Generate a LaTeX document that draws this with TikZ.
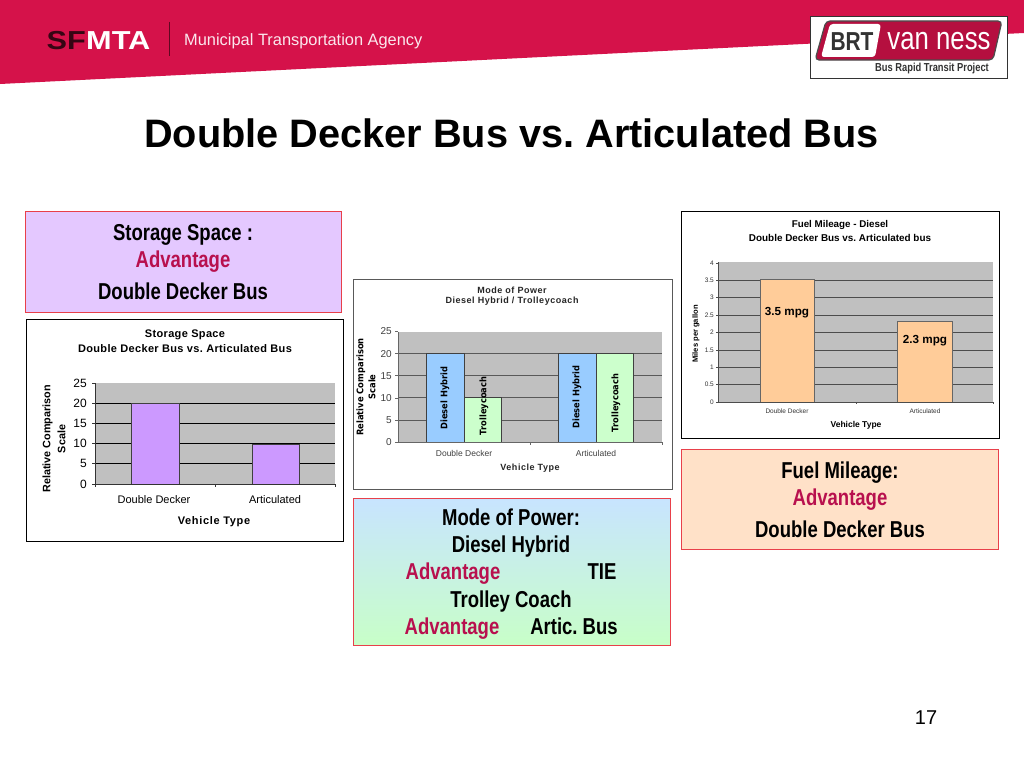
\documentclass[tikz,border=0pt]{standalone}
\usepackage{fontspec}
\setmainfont{Liberation Sans}
\usepackage{xcolor}
\usetikzlibrary{shadings}
\newfontfamily\narrowfont[FakeStretch=0.805]{Liberation Sans}
\newfontfamily\wideblack[FakeStretch=0.92]{DejaVu Sans}
\newfontfamily\spacedfont[LetterSpace=6]{Liberation Sans}
\newfontfamily\sparsefont[LetterSpace=3]{Liberation Sans}
\newfontfamily\widefont[FakeStretch=1.18]{Liberation Sans}
\definecolor{bannerred}{HTML}{D5124A}
\definecolor{advred}{HTML}{B8104E}
\definecolor{edgered}{HTML}{E8404A}
\definecolor{plotgray}{HTML}{C0C0C0}
\definecolor{barpurple}{HTML}{CC99FF}
\definecolor{barblue}{HTML}{99CCFF}
\definecolor{bargreen}{HTML}{CCFFCC}
\definecolor{barorange}{HTML}{FFCC99}
\tikzset{
  infobox/.style={draw=edgered,line width=0.9pt},
  chartframe/.style={draw=black,line width=0.9pt,fill=white},
  softframe/.style={draw=black!65,line width=0.8pt,fill=white},
  bar/.style={draw=black!75,line width=0.9pt},
  boxtext/.style={font=\narrowfont\bfseries\fontsize{23}{25}\selectfont,inner sep=0pt,anchor=base},
  advtext/.style={boxtext,text=advred},
  tick/.style={font=\fontsize{12}{14}\selectfont,anchor=east,inner sep=0pt},
}
\begin{document}
\frenchspacing
\begin{tikzpicture}[x=1pt,y=-1pt]
    \useasboundingbox (0,0) rectangle (1024,768);
    \fill[white] (0,0) rectangle (1024,768);
    \fill[bannerred] (0,0) -- (1024,0) -- (1024,33) -- (0,84) -- cycle;
    \node[text=black!75!bannerred,font=\widefont\bfseries\fontsize{26}{28}\selectfont,anchor=east,inner sep=0pt] (sf) at (86,41) {SF};
    \node[text=white,font=\widefont\bfseries\fontsize{26}{28}\selectfont,anchor=west,inner sep=0pt] (mta) at (sf.east) {MTA};
    \draw[black!55!bannerred,line width=0.6pt] (169,22) -- (169,56);
    \node[text=white!90!bannerred,font=\fontsize{16.4}{18}\selectfont,anchor=west,inner sep=0pt] (agency) at (184,41) {Municipal Transportation Agency};
    \draw[fill=white,draw=black!80,line width=0.8pt] (810,16) rectangle (1007,78);
    \fill[bannerred!85!black,draw=black!70,line width=1.2pt,rounded corners=4pt] (826,21) -- (1002,21) -- (993,60) -- (815,60) -- cycle;
    \fill[white,rounded corners=3pt] (830,24) -- (881,24) -- (875,57) -- (821,57) -- cycle;
    \node[text=black!80,font=\narrowfont\bfseries\fontsize{26}{28}\selectfont,inner sep=0pt] (brt) at (852,42) {BRT};
    \node[text=white,font=\narrowfont\fontsize{32}{34}\selectfont,inner sep=0pt] (vanness) at (939,41) {van ness};
    \node[text=black!80,font=\narrowfont\bfseries\fontsize{11.6}{14}\selectfont,inner sep=0pt] (project) at (932,69) {Bus Rapid Transit Project};
    \node[font=\bfseries\fontsize{39.7}{42}\selectfont,inner sep=0pt] (title) at (511.5,133) {Double Decker Bus vs. Articulated Bus};
    \draw[infobox,fill={rgb,255:red,228;green,200;blue,255}] (25,211) rectangle (341,312);
    \node[boxtext] (storage) at (183,240) {Storage Space :};
    \node[advtext] (storageadv) at (183,267) {Advantage};
    \node[boxtext] (storagebus) at (183,299) {Double Decker Bus};
    \draw[chartframe] (26,319) rectangle (343,541);
    \fill[plotgray] (95,383) rectangle (335,484);
    \foreach \v in {1,...,4} \draw[black,line width=0.7pt] (95,484-\v*20.2) -- (335,484-\v*20.2);
    \draw[bar,fill=barpurple] (131,484) rectangle (179,403);
    \draw[bar,fill=barpurple] (252,484) rectangle (299,444);
    \draw[black!80,line width=0.7pt] (95,383) -- (95,484) -- (335,484);
    \foreach \v in {0,...,5} {
      \draw[black!80,line width=0.7pt] (92,484-\v*20.2) -- (95,484-\v*20.2);
      \node[tick] (stor\v) at (87,484-\v*20.2) {\the\numexpr\v*5\relax};
    }
    \foreach \x in {95,215,335} \draw[black!80,line width=0.7pt] (\x,484) -- (\x,487);
    \node[font=\sparsefont\bfseries\fontsize{11}{13}\selectfont,inner sep=0pt] (stortitle) at (185,335) {Storage Space};
    \node[font=\sparsefont\bfseries\fontsize{11}{13}\selectfont,inner sep=0pt] (storsub) at (185,349) {Double Decker Bus vs. Articulated Bus};
    \node[font=\bfseries\fontsize{10.8}{15}\selectfont,rotate=90,align=center,inner sep=0pt] (storaxis) at (54,439) {Relative Comparison\\Scale};
    \node[font=\fontsize{11}{13}\selectfont,inner sep=0pt] (stordd) at (154,500) {Double Decker};
    \node[font=\fontsize{11}{13}\selectfont,inner sep=0pt] (storart) at (275,500) {Articulated};
    \node[font=\spacedfont\bfseries\fontsize{11}{13}\selectfont,inner sep=0pt] (stortype) at (214,522) {Vehicle Type};
    \draw[softframe] (353,279) rectangle (672,489);
    \fill[plotgray] (398,332) rectangle (662,442);
    \foreach \v in {1,...,4} \draw[black!65,line width=0.7pt] (398,442-\v*22.1) -- (662,442-\v*22.1);
    \draw[bar,fill=barblue] (426,442) rectangle (464,353);
    \draw[bar,fill=bargreen] (464,442) rectangle (501,397);
    \draw[bar,fill=barblue] (558,442) rectangle (596,353);
    \draw[bar,fill=bargreen] (596,442) rectangle (633,353);
    \draw[black!60,line width=0.6pt] (398,332) -- (398,442) -- (662,442);
    \foreach \v in {0,...,5} {
      \draw[black!60,line width=0.6pt] (395,442-\v*22.1) -- (398,442-\v*22.1);
      \node[tick,text=black!75,font=\fontsize{10}{12}\selectfont] (pow\v) at (392,442-\v*22.1) {\the\numexpr\v*5\relax};
    }
    \foreach \x in {530,662} \draw[black!60,line width=0.6pt] (\x,442) -- (\x,445);
    \foreach \x/\y/\name in {445/398/a,577/397/b} \node[font=\wideblack\bfseries\fontsize{9}{11}\selectfont,rotate=90,inner sep=0pt] (hybrid\name) at (\x,\y) {Diesel Hybrid};
    \node[font=\wideblack\bfseries\fontsize{9}{11}\selectfont,rotate=90,inner sep=0pt] (trolleya) at (484,406) {Trolleycoach};
    \node[font=\wideblack\bfseries\fontsize{9}{11}\selectfont,rotate=90,inner sep=0pt] (trolleyb) at (616,403) {Trolleycoach};
    \node[font=\spacedfont\bfseries\fontsize{9}{11}\selectfont,text=black!85,inner sep=0pt] (powtitle) at (512,290) {Mode of Power};
    \node[font=\spacedfont\bfseries\fontsize{9}{11}\selectfont,text=black!85,inner sep=0pt] (powsub) at (512,301) {Diesel Hybrid / Trolleycoach};
    \node[font=\wideblack\bfseries\fontsize{9.1}{12}\selectfont,rotate=90,align=center,inner sep=0pt] (powaxis) at (366,387) {Relative Comparison\\Scale};
    \node[font=\fontsize{8.5}{10}\selectfont,text=black!75,inner sep=0pt] (powdd) at (464,453) {Double Decker};
    \node[font=\fontsize{8.5}{10}\selectfont,text=black!75,inner sep=0pt] (powart) at (596,453) {Articulated};
    \node[font=\spacedfont\bfseries\fontsize{9}{11}\selectfont,text=black!85,inner sep=0pt] (powtype) at (530,468) {Vehicle Type};
    \draw[chartframe,line width=0.8pt] (681,211) rectangle (999,438);
    \fill[plotgray] (718,262) rectangle (993,402);
    \foreach \v in {1,...,7} \draw[black!70,line width=0.6pt] (718,402-\v*17.4) -- (993,402-\v*17.4);
    \draw[bar,fill=barorange,draw=black!60] (760,402) rectangle (814,279);
    \draw[bar,fill=barorange,draw=black!60] (897,402) rectangle (952,321);
    \draw[black!70,line width=0.6pt] (718,262) -- (718,402) -- (993,402);
    \foreach \v/\lab in {0/0,1/0.5,2/1,3/1.5,4/2,5/2.5,6/3,7/3.5,8/4} {
      \draw[black!70,line width=0.6pt] (716,402-\v*17.4) -- (718,402-\v*17.4);
      \node[tick,font=\fontsize{6.5}{8}\selectfont,text=black!80] (mil\v) at (714,402-\v*17.4) {\lab};
    }
    \foreach \x in {856,993} \draw[black!70,line width=0.6pt] (\x,402) -- (\x,404);
    \node[font=\bfseries\fontsize{9.8}{12}\selectfont,inner sep=0pt] (miltitle) at (840,225) {Fuel Mileage - Diesel};
    \node[font=\bfseries\fontsize{9.9}{12}\selectfont,inner sep=0pt] (milsub) at (840,238) {Double Decker Bus vs. Articulated bus};
    \node[font=\bfseries\fontsize{11.7}{14}\selectfont,inner sep=0pt] (milbar) at (787,313) {3.5 mpg};
    \node[font=\bfseries\fontsize{11.7}{14}\selectfont,inner sep=0pt] (milbarb) at (925,341) {2.3 mpg};
    \node[font=\bfseries\fontsize{7.6}{9}\selectfont,rotate=90,inner sep=0pt] (milaxis) at (696,334) {Miles per gallon};
    \node[font=\fontsize{6.5}{8}\selectfont,text=black!80,inner sep=0pt] (mildd) at (787,411) {Double Decker};
    \node[font=\fontsize{6.5}{8}\selectfont,text=black!80,inner sep=0pt] (milart) at (925,411) {Articulated};
    \node[font=\bfseries\fontsize{8.5}{10}\selectfont,inner sep=0pt] (miltype) at (856,425) {Vehicle Type};
    \draw[infobox,fill={rgb,255:red,255;green,225;blue,200}] (681,449) rectangle (998,549);
    \node[boxtext] (fuel) at (840,478) {Fuel Mileage:};
    \node[advtext] (fueladv) at (840,505) {Advantage};
    \node[boxtext] (fuelbus) at (840,537) {Double Decker Bus};
    \shade[top color={rgb,255:red,200;green,228;blue,255},bottom color={rgb,255:red,200;green,255;blue,200}] (353,498) rectangle (670,645);
    \draw[infobox] (353,498) rectangle (670,645);
    \node[boxtext] (mode) at (511,525) {Mode of Power:};
    \node[boxtext] (diesel) at (511,552) {Diesel Hybrid};
    \node[advtext] (dieseladv) at (453,579) {Advantage};
    \node[boxtext] (tie) at (602,579) {TIE};
    \node[boxtext] (trolley) at (511,607) {Trolley Coach};
    \node[advtext] (trolleyadv) at (452,634) {Advantage};
    \node[boxtext] (artic) at (574,634) {Artic. Bus};
    \node[font=\fontsize{20}{24}\selectfont,inner sep=0pt] (page) at (926,718) {17};
  \end{tikzpicture}
\end{document}
